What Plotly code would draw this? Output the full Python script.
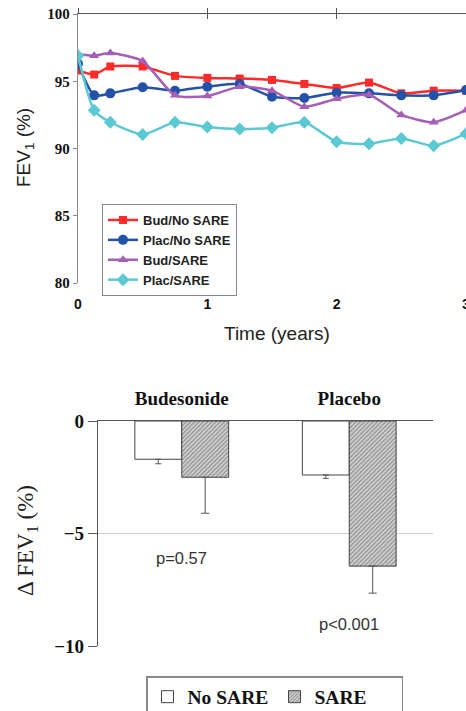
import plotly.graph_objects as go

# ---- data: top panel (FEV1 % over time) ----
time_years = [0, 0.125, 0.25, 0.5, 0.75, 1, 1.25, 1.5, 1.75, 2, 2.25, 2.5, 2.75, 3]
bud_no_sare = [95.8, 95.5, 96.1, 96.1, 95.4, 95.25, 95.2, 95.1, 94.8, 94.5, 94.9, 94.1, 94.3, 94.3]
plac_no_sare = [96.3, 93.95, 94.1, 94.55, 94.3, 94.6, 94.8, 93.85, 93.75, 94.15, 94.1, 93.95, 93.95, 94.35]
bud_sare = [97.0, 96.9, 97.1, 96.5, 93.95, 93.9, 94.6, 94.3, 93.1, 93.7, 94.0, 92.5, 91.95, 92.85]
plac_sare = [96.9, 92.85, 91.95, 91.05, 91.95, 91.6, 91.45, 91.55, 91.95, 90.5, 90.35, 90.75, 90.2, 91.1]
series_names = ["Bud/No SARE", "Plac/No SARE", "Bud/SARE", "Plac/SARE"]
time_ticks = [0, 1, 2, 3]

# ---- data: bottom panel (change in FEV1) ----
groups = ["Budesonide", "Placebo"]
delta_no_sare = [-1.7, -2.4]
delta_no_sare_err = [0.2, 0.15]
delta_sare = [-2.5, -6.45]
delta_sare_err = [1.6, 1.2]
p_labels = ["p=0.57", "p<0.001"]
p_label_y = [-6.1, -9.0]

W, H = 466, 711
SERIF = "Liberation Serif"
SANS = "Liberation Sans"

fig = go.Figure()

styles = [
    dict(color="#ff2a2a", symbol="square", size=8, ax="x"),
    dict(color="#2452a8", symbol="circle", size=10, ax="x3"),
    dict(color="#a55fb5", symbol="triangle-up", size=9, ax="x4"),
    dict(color="#5cc9d2", symbol="diamond", size=10, ax="x4"),
]
for name, ys, st in zip(series_names, [bud_no_sare, plac_no_sare, bud_sare, plac_sare], styles):
    fig.add_trace(go.Scatter(
        x=time_years, y=ys, name=name, mode="lines+markers",
        line=dict(color=st["color"], width=2.5, shape="spline", smoothing=0.6),
        marker=dict(color=st["color"], symbol=st["symbol"], size=st["size"]),
        xaxis=st["ax"], yaxis="y", legend="legend",
    ))

fig.add_trace(go.Bar(
    x=groups, y=delta_no_sare, name="No SARE",
    marker=dict(color="white", line=dict(color="#444", width=1)),
    error_y=dict(type="data", symmetric=False, array=[0, 0], arrayminus=delta_no_sare_err,
                 color="#555", thickness=1, width=3),
    xaxis="x2", yaxis="y2", legend="legend2",
))
fig.add_trace(go.Bar(
    x=groups, y=delta_sare, name="SARE",
    marker=dict(color="#cccccc", line=dict(color="#444", width=1),
                pattern=dict(shape="/", fgcolor="#8a8a8a", bgcolor="#d4d4d4", size=3, solidity=0.4)),
    error_y=dict(type="data", symmetric=False, array=[0, 0], arrayminus=delta_sare_err,
                 color="#555", thickness=1, width=4),
    xaxis="x2", yaxis="y2", legend="legend2",
))

def px_x(p):
    return p / W

def px_y(p):
    return (H - p) / H

top_dom_y = [px_y(283), px_y(14)]
bot_dom_y = [px_y(646), px_y(421)]
bot_dom_x = [px_x(98), px_x(433)]
top_dom_x = [px_x(78), 1]

fig.update_layout(
    template="none",
    width=W, height=H,
    margin=dict(l=0, r=0, t=0, b=0, autoexpand=False),
    paper_bgcolor="white", plot_bgcolor="white",
    showlegend=True, hovermode=False,
    barmode="group", bargap=0.44, bargroupgap=0,
    # bottom-side labels of the time axis
    xaxis=dict(domain=top_dom_x, range=[0, 3], side="bottom", anchor="y", automargin=False,
               showline=False, tickvals=time_ticks, ticks="", ticklabeloverflow="allow",
               tickfont=dict(family=SANS, size=14, color="#111", weight="bold"),
               ticklabelstandoff=11, showgrid=False, zeroline=False),
    # top line with ticks pointing up
    xaxis3=dict(overlaying="x", anchor="y", range=[0, 3], side="top", automargin=False,
                showline=True, linecolor="#555", linewidth=1.2,
                tickvals=time_ticks, ticks="outside", ticklen=5, tickcolor="#555",
                showticklabels=False, showgrid=False, zeroline=False),
    # ticks pointing down from the top line
    xaxis4=dict(overlaying="x", anchor="y", range=[0, 3], side="top", automargin=False,
                showline=False, tickvals=time_ticks, ticks="inside", ticklen=5, tickcolor="#555",
                showticklabels=False, showgrid=False, zeroline=False),
    yaxis=dict(domain=top_dom_y, range=[80, 100], anchor="x", dtick=5, automargin=False,
               showline=True, linecolor="#888", linewidth=1.2,
               ticks="outside", ticklen=4, tickcolor="#888",
               tickfont=dict(family=SERIF, size=15, color="#111", weight="bold"),
               showgrid=False, zeroline=False),
    xaxis2=dict(domain=bot_dom_x, anchor="y2", type="category", side="top", automargin=False,
                showline=True, linecolor="#555", linewidth=1.5, ticks="",
                tickfont=dict(family=SERIF, size=19, color="#111", weight="bold"),
                ticklabelstandoff=7, showgrid=False, zeroline=False),
    yaxis2=dict(domain=bot_dom_y, anchor="x2", range=[-10, 0], dtick=5, automargin=False,
                showline=True, linecolor="#555", linewidth=1.2,
                ticks="outside", ticklen=9, tickcolor="#555",
                tickfont=dict(family=SERIF, size=19, color="#111", weight="bold"),
                showgrid=True, gridcolor="#cfcfcf", gridwidth=1, zeroline=False),
    legend=dict(x=px_x(102), y=px_y(204), xanchor="left", yanchor="top",
                bordercolor="#888", borderwidth=1, bgcolor="white",
                font=dict(family=SANS, size=13, color="#222", weight="bold"),
                tracegroupgap=0, itemwidth=30),
    legend2=dict(x=px_x(146), y=px_y(676), xanchor="left", yanchor="top",
                 orientation="h", bordercolor="#888", borderwidth=1.5, bgcolor="white",
                 entrywidth=82,
                 font=dict(family=SERIF, size=19.5, color="#111", weight="bold")),
)

annotations = [
    dict(text="FEV<sub>1</sub> (%)", x=px_x(25), y=px_y(148), xref="paper", yref="paper",
         xanchor="center", yanchor="middle",
         textangle=-90, showarrow=False, font=dict(family=SANS, size=19, color="#222")),
    dict(text="Time (years)", x=px_x(277), y=px_y(333), xref="paper", yref="paper",
         xanchor="center", yanchor="middle",
         showarrow=False, font=dict(family=SANS, size=19, color="#222")),
    dict(text="Δ FEV<sub>1</sub> (%)", x=px_x(27), y=px_y(541), xref="paper", yref="paper",
         xanchor="center", yanchor="middle",
         textangle=-90, showarrow=False, font=dict(family=SERIF, size=23, color="#222")),
]
for g, t, yv in zip(groups, p_labels, p_label_y):
    annotations.append(dict(text=t, x=g, y=yv, xref="x2", yref="y2", showarrow=False,
                            xanchor="center", yanchor="middle",
                            font=dict(family=SANS, size=16.5, color="#333")))
fig.update_layout(annotations=annotations)

fig.write_html("out.html", config={"displayModeBar": False, "staticPlot": True},
               post_script="document.body.style.margin='0px';document.body.style.overflow='hidden';")
